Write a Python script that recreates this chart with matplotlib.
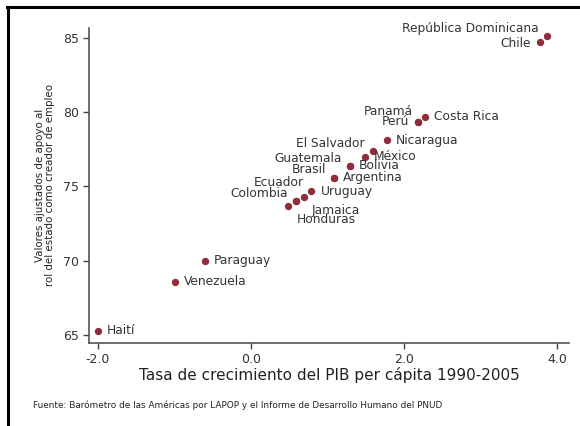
import matplotlib
matplotlib.use('Agg')
import matplotlib.pyplot as plt
from matplotlib.lines import Line2D

# datos
paises = ["Haití", "Venezuela", "Paraguay", "Honduras", "Jamaica", "Colombia",
          "Ecuador", "Uruguay", "Argentina", "Brasil", "Bolivia", "Guatemala",
          "México", "El Salvador", "Nicaragua", "Perú", "Panamá", "Costa Rica",
          "Chile", "República Dominicana"]
crecimiento = [-2.0, -0.99, -0.60, 0.49, 0.59, 0.59, 0.69, 0.79, 1.09, 1.09,
               1.29, 1.29, 1.49, 1.59, 1.78, 2.18, 2.18, 2.27, 3.78, 3.87]
apoyo = [65.3, 68.6, 70.0, 73.7, 74.0, 74.0, 74.3, 74.7, 75.6, 75.6,
         76.4, 76.4, 77.0, 77.4, 78.1, 79.35, 79.35, 79.7, 84.7, 85.1]

xticks = [-2, 0, 2, 4]
yticks = [65, 70, 75, 80, 85]

# posicion de cada etiqueta (desplazamiento en pixeles, alineacion)
pos = {
    "Haití": (9, 0, 'left'), "Venezuela": (9, 0, 'left'), "Paraguay": (9, 0, 'left'),
    "Honduras": (8, -14, 'left'), "Jamaica": (15, -9, 'left'),
    "Colombia": (-8, 8, 'right'), "Ecuador": (0, 14, 'right'),
    "Uruguay": (9, -1, 'left'), "Argentina": (9, 0, 'left'),
    "Brasil": (-8, 8, 'right'), "Bolivia": (9, 0, 'left'),
    "Guatemala": (-8, 7, 'right'), "México": (9, 0, 'left'),
    "El Salvador": (-8, 7, 'right'), "Nicaragua": (9, 0, 'left'),
    "Perú": (-9, 0, 'right'), "Panamá": (-5, 10, 'right'),
    "Costa Rica": (9, 0, 'left'), "Chile": (-9, -1, 'right'),
    "República Dominicana": (-8, 8, 'right'),
}

rojo = '#8f2d38'
gris = '#333333'

fig = plt.figure(figsize=(5.8, 4.26), dpi=100)
ax = fig.add_axes([89/580, 1 - 343/426, (569 - 89)/580, (343 - 28)/426])

ax.scatter(crecimiento, apoyo, s=28, color=rojo, zorder=3, linewidths=0)
for p, x, y in zip(paises, crecimiento, apoyo):
    dx, dy, ha = pos[p]
    ax.annotate(p, (x, y), xytext=(dx, dy), textcoords='offset pixels',
                ha=ha, va='center', fontsize=8.8, color=gris)

ax.set_xlim(-2.118, 4.157)
ax.set_ylim(64.46, 85.67)
ax.set_xticks(xticks)
ax.set_xticklabels(["%.1f" % t for t in xticks])
ax.set_yticks(yticks)
ax.tick_params(direction='out', length=4, width=1, colors='#444444',
               labelsize=9, labelcolor=gris, pad=3)
for s in ['top', 'right']:
    ax.spines[s].set_visible(False)
for s in ['left', 'bottom']:
    ax.spines[s].set_color('#555555')
    ax.spines[s].set_linewidth(1.2)

ax.set_xlabel("Tasa de crecimiento del PIB per cápita 1990-2005",
              fontsize=11, color='#222222', labelpad=1)
ax.set_ylabel("Valores ajustados de apoyo al\nrol del estado como creador de empleo",
              fontsize=7.4, color='#222222', labelpad=6, linespacing=1.0)

fig.text(33/580, 1 - 405/426,
         "Fuente: Barómetro de las Américas por LAPOP y el Informe de Desarrollo Humano del PNUD",
         fontsize=6.4, color='#222222', va='center')

# marco negro (arriba e izquierda)
fig.add_artist(Line2D([7/580, 1], [1 - 6.5/426, 1 - 6.5/426], color='black', lw=2.2,
                      transform=fig.transFigure))
fig.add_artist(Line2D([7.5/580, 7.5/580], [0, 1 - 6.5/426], color='black', lw=2.2,
                      transform=fig.transFigure))

fig.savefig('out.png', dpi=100)
